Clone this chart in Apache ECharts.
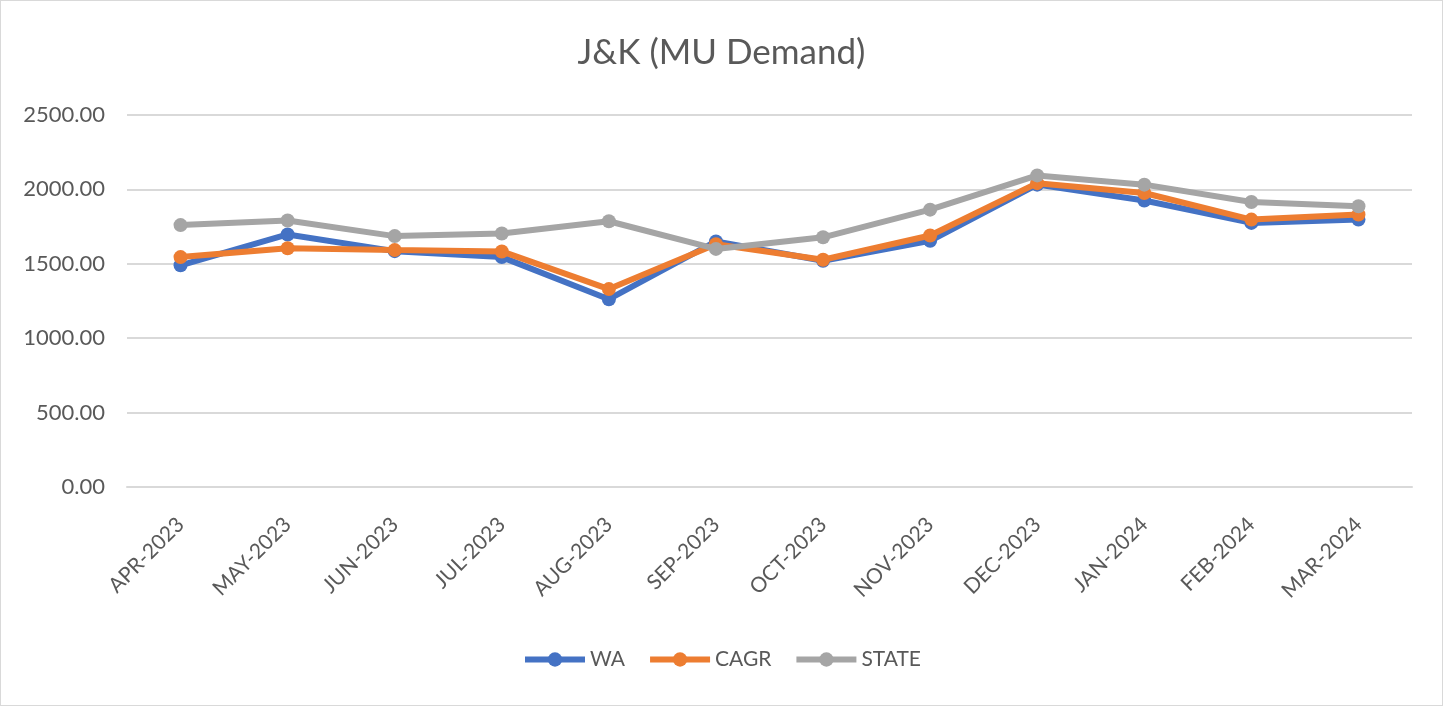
<!DOCTYPE html>
<html>
<head>
<meta charset="utf-8">
<script src="https://cdn.jsdelivr.net/npm/echarts@6/dist/echarts.min.js"></script>
<style>
  html, body { margin: 0; padding: 0; background: #fff; }
  #chart {
    width: 1441px;
    height: 704px;
    border: 1px solid #d9d9d9;
  }
</style>
</head>
<body>
<div id="chart"></div>
<script>
// 月份类目
const months = ['APR-2023', 'MAY-2023', 'JUN-2023', 'JUL-2023', 'AUG-2023', 'SEP-2023',
  'OCT-2023', 'NOV-2023', 'DEC-2023', 'JAN-2024', 'FEB-2024', 'MAR-2024']

// 各系列数值（读图估算）
const waValues = [1490, 1697, 1585, 1545, 1262, 1650, 1520, 1655, 2032, 1925, 1775, 1797]
const cagrValues = [1545, 1605, 1592, 1583, 1330, 1632, 1527, 1690, 2042, 1976, 1797, 1831]
const stateValues = [1760, 1791, 1686, 1704, 1786, 1600, 1678, 1864, 2094, 2032, 1915, 1887]

const textColor = '#595959'
const fontFamily = 'Lato, "Open Sans", sans-serif'

const makeSeries = (name, data, color, z) => ({
  name,
  type: 'line',
  data,
  z,
  symbol: 'circle',
  symbolSize: 14,
  showSymbol: true,
  itemStyle: { color },
  lineStyle: { color, width: 6 },
  emphasis: { disabled: true },
})

const chart = echarts.init(document.getElementById('chart'))
chart.setOption({
  animation: false,
  backgroundColor: '#fff',
  title: {
    text: 'J&K (MU Demand)',
    left: 'center',
    top: 29,
    textStyle: {
      color: textColor,
      fontFamily,
      fontSize: 35,
      fontWeight: 'normal',
    },
  },
  legend: {
    bottom: 30,
    left: 'center',
    itemWidth: 60,
    itemHeight: 18,
    itemGap: 22,
    lineStyle: { width: 6 },
    textStyle: { color: textColor, fontFamily, fontSize: 21 },
    data: ['WA', 'CAGR', 'STATE'],
  },
  grid: {
    left: 126,
    right: 30,
    top: 114,
    bottom: 218,
  },
  xAxis: {
    type: 'category',
    data: months,
    boundaryGap: true,
    axisLine: { lineStyle: { color: '#d9d9d9', width: 2 } },
    axisTick: { show: false },
    axisLabel: {
      color: textColor,
      fontFamily,
      fontSize: 21,
      rotate: 45,
      margin: 34,
      interval: 0,
    },
  },
  yAxis: {
    type: 'value',
    min: 0,
    max: 2500,
    interval: 500,
    axisLine: { show: false },
    axisTick: { show: false },
    axisLabel: {
      color: textColor,
      fontFamily,
      fontSize: 22,
      margin: 22,
      formatter: (v) => v.toFixed(2),
    },
    splitLine: { lineStyle: { color: '#d9d9d9', width: 2 } },
  },
  series: [
    makeSeries('WA', waValues, '#4472C4', 2),
    makeSeries('CAGR', cagrValues, '#ED7D31', 3),
    makeSeries('STATE', stateValues, '#A5A5A5', 4),
  ],
})
</script>
</body>
</html>
